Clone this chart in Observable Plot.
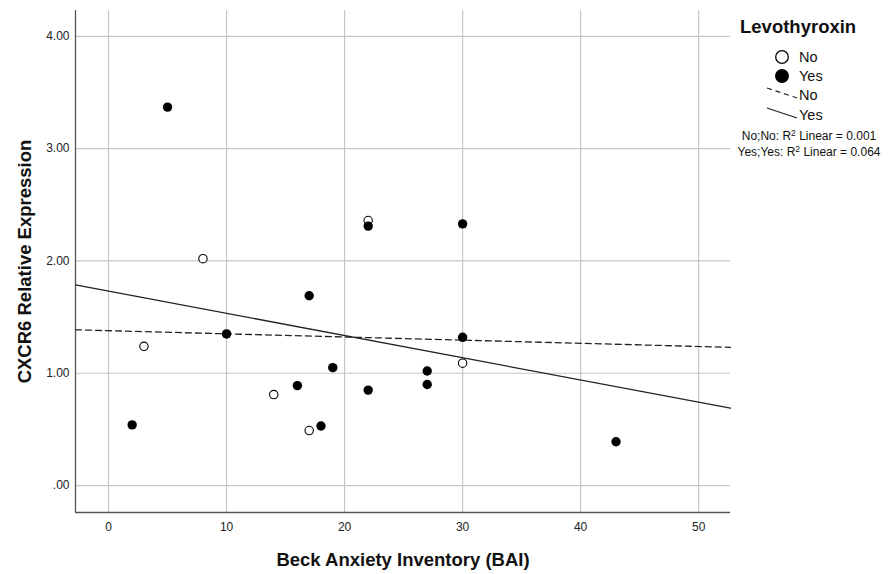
<!DOCTYPE html>
<html>
<head>
<meta charset="utf-8">
<script src="https://cdn.jsdelivr.net/npm/d3@7"></script>
<script src="https://cdn.jsdelivr.net/npm/@observablehq/plot@0.6"></script>
<style>
  html, body { margin: 0; padding: 0; background: #fff; }
  #chart { position: relative; width: 889px; height: 574px; font-family: "Liberation Sans", Arial, sans-serif; }
  #chart svg { position: absolute; left: 0; top: 0; }
  #legend { pointer-events: none; }
</style>
</head>
<body>
<div id="chart"></div>
<script>
// Levothyroxin = No
const baiNo = [3, 8, 14, 17, 22, 30];
const cxcr6No = [1.24, 2.02, 0.81, 0.49, 2.36, 1.09];
// Levothyroxin = Yes
const baiYes = [2, 5, 10, 16, 17, 18, 19, 22, 22, 27, 27, 30, 30, 43];
const cxcr6Yes = [0.54, 3.37, 1.35, 0.89, 1.69, 0.53, 1.05, 2.31, 0.85, 1.02, 0.90, 2.33, 1.32, 0.39];

const xTicks = [0, 10, 20, 30, 40, 50];
const yTicks = [0, 1, 2, 3, 4];
const xDomain = [-2.8, 52.7];
const yDomain = [-0.24, 4.23];

const groupNames = ["No", "Yes"];

const rowsNo = baiNo.map((x, i) => ({x, y: cxcr6No[i]}));
const rowsYes = baiYes.map((x, i) => ({x, y: cxcr6Yes[i]}));

// Ordinary least squares fit, with R²
function fit(rows) {
  const mx = d3.mean(rows, d => d.x), my = d3.mean(rows, d => d.y);
  const sxy = d3.sum(rows, d => (d.x - mx) * (d.y - my));
  const sxx = d3.sum(rows, d => (d.x - mx) ** 2);
  const syy = d3.sum(rows, d => (d.y - my) ** 2);
  const slope = sxy / sxx;
  const intercept = my - slope * mx;
  return {slope, intercept, r2: (sxy * sxy) / (sxx * syy)};
}
const fitNo = fit(rowsNo);
const fitYes = fit(rowsYes);
// Fit lines span the whole x axis
const span = f => xDomain.map(x => ({x, y: f.intercept + f.slope * x}));

const tickFmt = d => d3.format(".2f")(d).replace(/^0/, "");

const plot = Plot.plot({
  width: 889,
  height: 574,
  marginLeft: 75,
  marginRight: 159,
  marginTop: 10,
  marginBottom: 62,
  style: {fontFamily: "Liberation Sans, Arial, sans-serif", fontSize: "12px", color: "#222", background: "transparent"},
  x: {domain: xDomain},
  y: {domain: yDomain},
  marks: [
    Plot.gridX(xTicks, {stroke: "#c6c6c6", strokeOpacity: 1, strokeWidth: 1.2}),
    Plot.gridY(yTicks, {stroke: "#c6c6c6", strokeOpacity: 1, strokeWidth: 1.2}),
    Plot.ruleX([xDomain[0]], {stroke: "#555", strokeWidth: 1.3}),
    Plot.ruleY([yDomain[0]], {stroke: "#555", strokeWidth: 1.3}),
    Plot.axisX(xTicks, {tickSize: 0, tickPadding: 10, fontSize: 12, label: null}),
    Plot.axisY(yTicks, {tickSize: 0, tickPadding: 6, fontSize: 12, tickFormat: tickFmt, label: null}),
    Plot.text(["Beck Anxiety Inventory (BAI)"], {frameAnchor: "bottom", dy: 48, lineAnchor: "middle", textAnchor: "middle", fontSize: 18.5, fontWeight: "bold", fill: "#111"}),
    Plot.text(["CXCR6 Relative Expression"], {frameAnchor: "left", dx: -50, rotate: -90, textAnchor: "middle", lineAnchor: "middle", fontSize: 18.5, fontWeight: "bold", fill: "#111"}),
    Plot.line(span(fitNo), {x: "x", y: "y", stroke: "#222", strokeWidth: 1.3, strokeDasharray: "6,4"}),
    Plot.line(span(fitYes), {x: "x", y: "y", stroke: "#222", strokeWidth: 1.3}),
    Plot.dot(rowsNo, {x: "x", y: "y", r: 4.2, fill: "white", stroke: "black", strokeWidth: 1.1}),
    Plot.dot(rowsYes, {x: "x", y: "y", r: 4.7, fill: "black", stroke: "none"})
  ]
});
document.getElementById("chart").appendChild(plot);

// Legend in the right margin
const legend = d3.select("#chart").append("svg")
  .attr("id", "legend")
  .attr("width", 889).attr("height", 574)
  .style("font-family", "Liberation Sans, Arial, sans-serif")
  .attr("fill", "#111");

legend.append("text").attr("x", 740).attr("y", 33)
  .attr("font-size", 18.5).attr("font-weight", "bold").text("Levothyroxin");

const markerRows = [
  {name: groupNames[0], y: 57, fill: "white"},
  {name: groupNames[1], y: 76, fill: "black"}
];
markerRows.forEach(r => {
  legend.append("circle").attr("cx", 782).attr("cy", r.y).attr("r", 6.3)
    .attr("fill", r.fill).attr("stroke", "black").attr("stroke-width", 1.3);
  legend.append("text").attr("x", 799).attr("y", r.y).attr("dy", "0.35em")
    .attr("font-size", 14.5).text(r.name);
});

const lineRows = [
  {name: groupNames[0], y: 95, dash: "5,4"},
  {name: groupNames[1], y: 115, dash: null}
];
lineRows.forEach(r => {
  legend.append("line").attr("x1", 767).attr("y1", r.y - 7).attr("x2", 797).attr("y2", r.y + 3)
    .attr("stroke", "#222").attr("stroke-width", 1.2).attr("stroke-dasharray", r.dash);
  legend.append("text").attr("x", 799).attr("y", r.y).attr("dy", "0.35em")
    .attr("font-size", 14.5).text(r.name);
});

const r2Rows = [
  {label: `${groupNames[0]};${groupNames[0]}: R`, r2: fitNo.r2, y: 140},
  {label: `${groupNames[1]};${groupNames[1]}: R`, r2: fitYes.r2, y: 156}
];
r2Rows.forEach(r => {
  const t = legend.append("text").attr("x", 809).attr("y", r.y)
    .attr("text-anchor", "middle").attr("font-size", 12);
  t.append("tspan").text(r.label);
  t.append("tspan").attr("dy", -4).attr("font-size", 8.5).text("2");
  t.append("tspan").attr("dy", 4).text(` Linear = ${d3.format(".3f")(r.r2)}`);
});
</script>
</body>
</html>
